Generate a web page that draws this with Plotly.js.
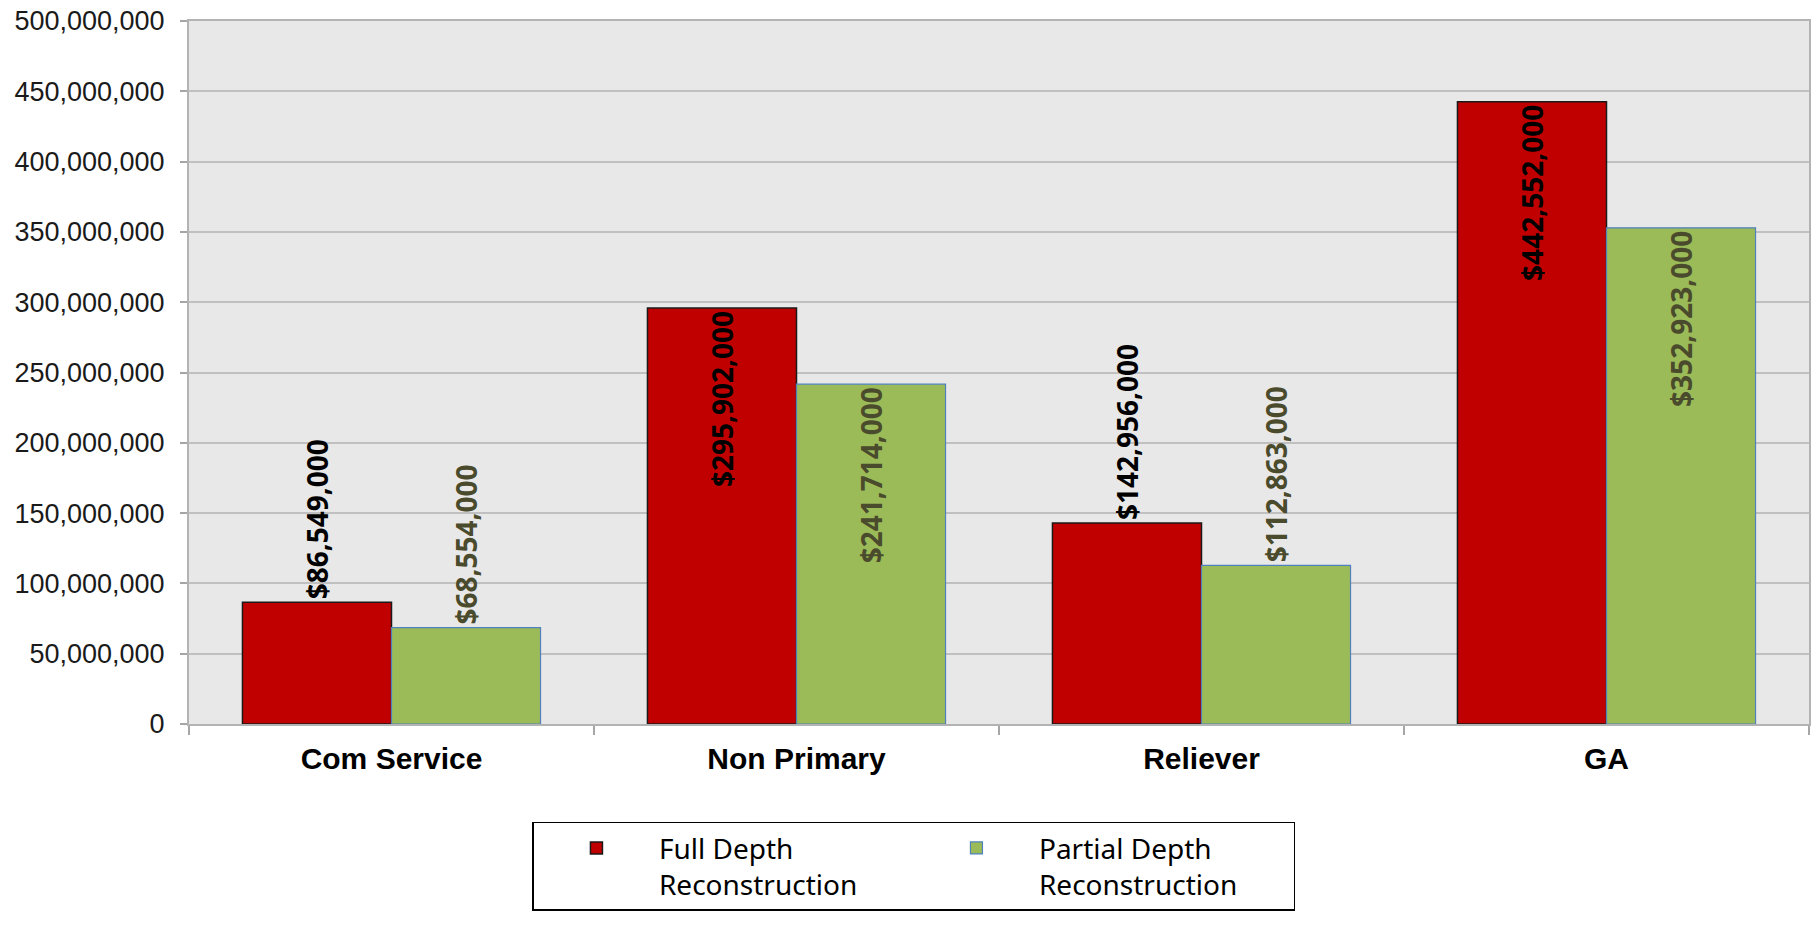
<!DOCTYPE html>
<html>
<head>
<meta charset="utf-8">
<script src="https://cdn.plot.ly/plotly-3.0.1.min.js"></script>
<style>html,body{margin:0;padding:0;background:#fff;}#chart{width:1816px;height:931px;}</style>
</head>
<body>
<div id="chart"></div>
<script>
const categories = ["Com Service", "Non Primary", "Reliever", "GA"];
const fullDepth = [86549000, 295902000, 142956000, 442552000];
const partialDepth = [68554000, 241714000, 112863000, 352923000];
const fullPos = ["outside", "inside", "outside", "inside"];
const partialPos = ["outside", "inside", "outside", "inside"];
const seriesNames = ["Full Depth<br>Reconstruction", "Partial Depth<br>Reconstruction"];
const yTickVals = [0, 50000000, 100000000, 150000000, 200000000, 250000000, 300000000, 350000000, 400000000, 450000000, 500000000];

const fmt = v => "$" + v.toLocaleString("en-US");
const labelFont = "'Noto Sans', 'Open Sans', sans-serif";

const traces = [
  {
    type: "bar", name: seriesNames[0], x: categories, y: fullDepth,
    text: fullDepth.map(fmt), textposition: fullPos, textangle: -90,
    insidetextanchor: "end", constraintext: "none", cliponaxis: false,
    textfont: {family: labelFont, size: 28, color: "#000000", weight: "bold"},
    marker: {color: "#c00000", line: {color: "#1a1a1a", width: 1.5}},
    hoverinfo: "none"
  },
  {
    type: "bar", name: seriesNames[1], x: categories, y: partialDepth,
    text: partialDepth.map(fmt), textposition: partialPos, textangle: -90,
    insidetextanchor: "end", constraintext: "none", cliponaxis: false,
    textfont: {family: labelFont, size: 28, color: "#4a4a2c", weight: "bold"},
    marker: {color: "#9bbb59", line: {color: "#4f81bd", width: 1.2}},
    hoverinfo: "none"
  }
];

const layout = {
  width: 1816, height: 931,
  margin: {l: 189, r: 7, t: 21, b: 207},
  paper_bgcolor: "#ffffff",
  plot_bgcolor: "#e8e8e8",
  barmode: "group",
  bargap: 0.264,
  bargroupgap: 0,
  showlegend: true,
  legend: {
    orientation: "h",
    x: 0.4475, xanchor: "center",
    y: -0.139, yanchor: "top",
    bordercolor: "#000000", borderwidth: 1.5,
    bgcolor: "#ffffff",
    font: {family: labelFont, size: 28, color: "#000000"},
    entrywidth: 250,
    itemwidth: 115,
    traceorder: "normal",
    valign: "top"
  },
  xaxis: {
    type: "category",
    tickson: "boundaries",
    ticks: "outside", ticklen: 9, tickwidth: 2, tickcolor: "#a6a6a6",
    showline: true, linecolor: "#b3b3b3", linewidth: 2, mirror: true,
    showgrid: false,
    tickfont: {family: "'Liberation Sans', Arial, sans-serif", size: 30, color: "#000000", weight: "bold"},
    ticklabelstandoff: 7
  },
  yaxis: {
    range: [0, 500000000],
    tickvals: yTickVals,
    tickformat: ",d",
    ticks: "outside", ticklen: 7, tickwidth: 2, tickcolor: "#a6a6a6",
    showline: true, linecolor: "#b3b3b3", linewidth: 2, mirror: true,
    showgrid: true, gridcolor: "#c0c0c0", gridwidth: 2,
    zeroline: false,
    tickfont: {family: "'Liberation Sans', Arial, sans-serif", size: 27, color: "#1a1a1a"},
    ticklabelstandoff: 10
  }
};

Plotly.newPlot("chart", traces, layout, {displayModeBar: false, staticPlot: true});
</script>
</body>
</html>
